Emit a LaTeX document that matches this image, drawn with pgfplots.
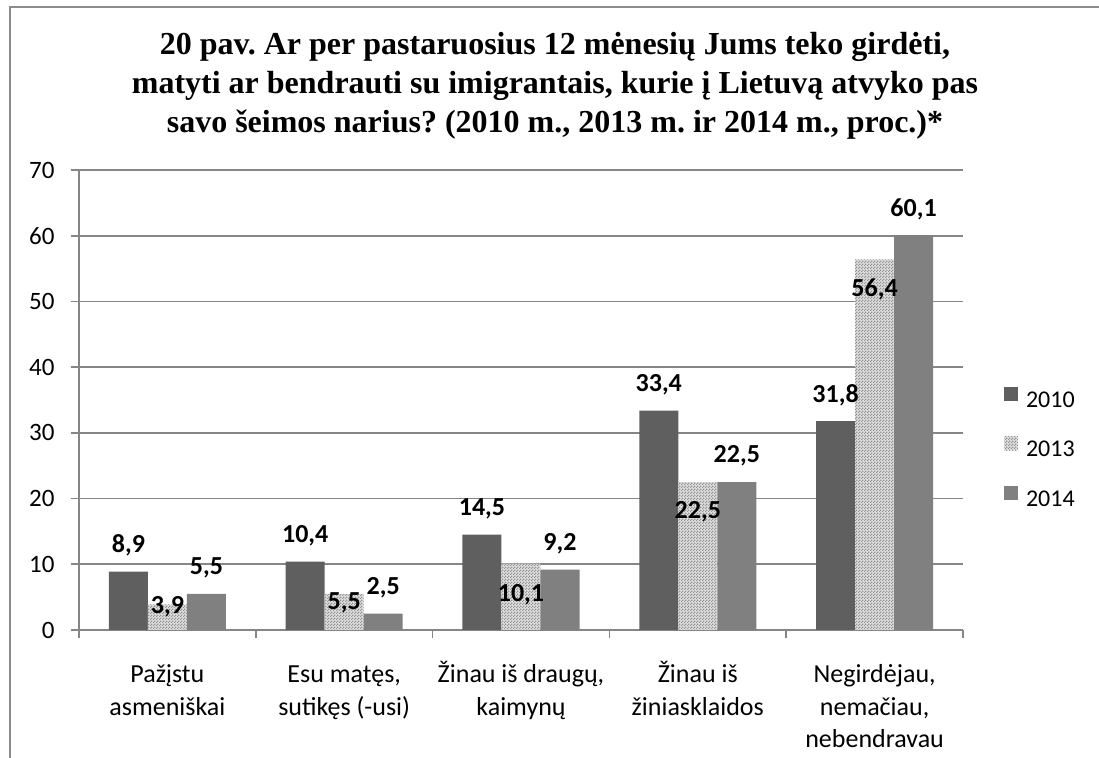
\documentclass[border=0pt]{standalone}
\usepackage{fontspec}
\setmainfont{Carlito}
\newfontfamily\titlefont{Liberation Serif}
\usepackage{pgfplots}
\usepackage{pgfplotstable}
\pgfplotsset{compat=1.18}
\usetikzlibrary{patterns.meta}
\frenchspacing

\definecolor{c2010}{RGB}{95,95,95}
\definecolor{c2014}{RGB}{128,128,128}
\definecolor{gridc}{RGB}{134,134,134}
\definecolor{framec}{RGB}{140,140,140}

\tikzdeclarepattern{
  name=finecheck,
  type=uncolored,
  bottom left={(0pt,0pt)},
  top right={(1.5pt,1.5pt)},
  tile size={(1.5pt,1.5pt)},
  code={
    \pgfpathrectangle{\pgfpoint{0pt}{0pt}}{\pgfpoint{0.75pt}{0.75pt}}
    \pgfpathrectangle{\pgfpoint{0.75pt}{0.75pt}}{\pgfpoint{0.75pt}{0.75pt}}
    \pgfusepath{fill}
  }
}

\pgfplotstableread{
x y off
0 8.9 13
1 10.4 13
2 14.5 13
3 33.4 13
4 31.8 13
}\tA
\pgfplotstableread{
x y off
0 3.9 -1
1 5.5 -4.5
2 10.1 -15.5
3 22.5 -15
4 56.4 -15
}\tB
\pgfplotstableread{
x y off
0 5.5 13
1 2.5 13
2 9.2 13
3 22.5 13
4 60.1 13
}\tC

\newcommand{\fs}{\rule{0pt}{11pt}}

\begin{document}
\begin{tikzpicture}
\begin{axis}[
  name=ax, at={(0,0)}, anchor=south west,
  scale only axis, width=442pt, height=230pt,
  xmin=-0.5, xmax=4.5, ymin=0, ymax=70,
  axis lines=left,
  axis line style={-, draw=gridc, line width=0.8pt},
  tick align=outside, major tick length=4.25pt,
  tick style={draw=gridc, line width=0.8pt},
  ytick={0,10,...,70},
  ymajorgrids, grid style={draw=gridc, line width=0.8pt},
  xtick={-0.5,0.5,1.5,2.5,3.5,4.5},
  x tick label as interval,
  xticklabels={{\fs Pažįstu\\asmeniškai},{\fs Esu matęs,\\sutikęs (-usi)},{\fs Žinau iš draugų,\\kaimynų},{\fs Žinau iš\\žiniasklaidos},{\fs Negirdėjau,\\nemačiau,\\nebendravau}},
  xticklabel style={align=center, font=\fontsize{13}{16.25}\selectfont, yshift=-7.5pt},
  yticklabel style={font=\fontsize{12.5}{14}\selectfont, xshift=-4.5pt},
  /pgf/number format/assume math mode=true,
  nodes near coords={\pgfmathprintnumber[fixed, fixed zerofill, precision=1, use comma, assume math mode=true]{\pgfplotspointmeta}},
  every node near coord/.append style={font=\bfseries\fontsize{13}{15}\selectfont, anchor=center, text=black},
  legend style={at={(1.046,0.391)}, anchor=west, draw=none, fill=none,
    font=\fontsize{12}{14}\selectfont, inner sep=0pt, row sep=11pt, column sep=2pt},
  legend cell align=left,
  sqlegend/.style={legend image code/.code={\path[##1, draw=none] (0pt,0pt) rectangle (7pt,7pt);}},
]
\addplot[ybar, bar width=0.2206, bar shift=-0.2206, fill=c2010, draw=none, sqlegend,
  visualization depends on={\thisrow{off}\as\myoff},
  every node near coord/.append style={yshift=\myoff pt, xshift=-19.5pt}]
  table[x=x,y=y]{\tA};
\addlegendentry{2010}
\addplot[ybar, bar width=0.2206, bar shift=0, fill=gray!25, draw=none,
  postaction={pattern={finecheck}, pattern color=gray!85}, sqlegend,
  visualization depends on={\thisrow{off}\as\myoff},
  every node near coord/.append style={yshift=\myoff pt}]
  table[x=x,y=y]{\tB};
\addlegendentry{2013}
\addplot[ybar, bar width=0.2206, bar shift=0.2206, fill=c2014, draw=none, sqlegend,
  visualization depends on={\thisrow{off}\as\myoff},
  every node near coord/.append style={yshift=\myoff pt, xshift=19.5pt}]
  table[x=x,y=y]{\tC};
\addlegendentry{2014}
\end{axis}
\node[font=\titlefont\bfseries\fontsize{16}{19.5}\selectfont, align=center] at (238pt,272pt)
  {20 pav. Ar per pastaruosius 12 mėnesių Jums teko girdėti,\\
   matyti ar bendrauti su imigrantais, kurie į Lietuvą atvyko pas\\
   savo šeimos narius? (2010 m., 2013 m. ir 2014 m., proc.)*};
\draw[framec, line width=1pt] (-34.5pt,-64pt) -- (-34.5pt,311.5pt) -- (510pt,311.5pt);
\pgfresetboundingbox
\useasboundingbox (-39.5pt,-64pt) rectangle (510pt,315pt);
\end{tikzpicture}
\end{document}
